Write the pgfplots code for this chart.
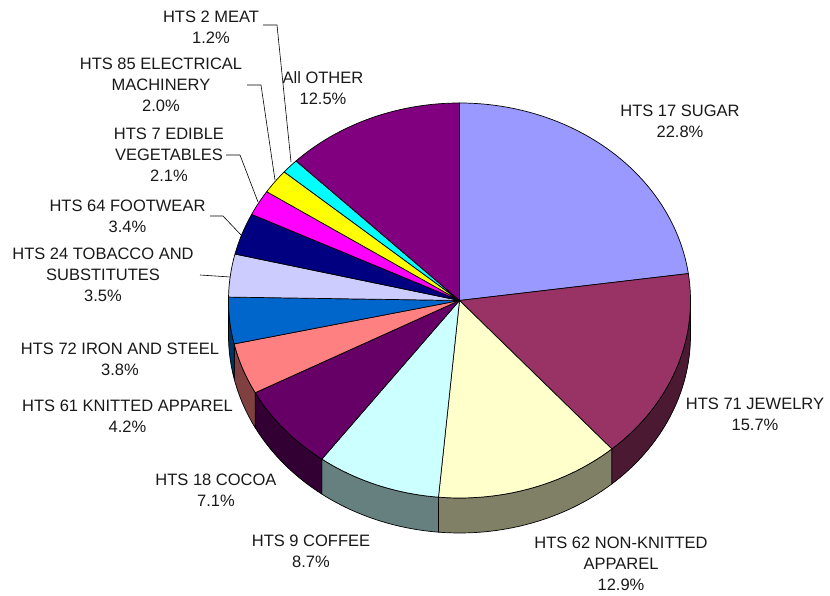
\documentclass[border=0pt]{standalone}
\usepackage{pgfplots}
\pgfplotsset{compat=1.18}
\usepackage{fontspec}
\setmainfont{Liberation Sans}

\definecolor{cSugar}{HTML}{9999FF}
\definecolor{cJewel}{HTML}{993366}
\definecolor{cNonKnit}{HTML}{FFFFCC}
\definecolor{cCoffee}{HTML}{CCFFFF}
\definecolor{cCocoa}{HTML}{660066}
\definecolor{cKnit}{HTML}{FF8080}
\definecolor{cIron}{HTML}{0066CC}
\definecolor{cTobacco}{HTML}{CCCCFF}
\definecolor{cFoot}{HTML}{000080}
\definecolor{cVeg}{HTML}{FF00FF}
\definecolor{cElec}{HTML}{FFFF00}
\definecolor{cMeat}{HTML}{00FFFF}
\definecolor{cOther}{HTML}{800080}

\tikzset{lbl/.style={font=\fontsize{16.5}{21}\selectfont, align=center, text=black!90, inner sep=0pt}}

% geometry (1 unit = 1 pt = 1 px of the reference)
\def\cx{459.5}
\def\cy{295.5}
\def\rx{231}
\def\ry{197.5}
\def\dep{35}

% shares in percent, clockwise from 12 o'clock
\def\vals{22.8,15.7,12.9,8.7,7.1,4.2,3.8,3.5,3.4,2.1,2.0,1.2,12.5}
\def\total{99.9}
\pgfmathsetmacro\degper{360/\total}
\gdef\cum{0}
\expandafter\xdef\csname ang0\endcsname{90}
\foreach \v [count=\i] in \vals {%
  \pgfmathsetmacro\newcum{\cum+\v}%
  \xdef\cum{\newcum}%
  \pgfmathsetmacro\aa{90-\degper*\newcum}%
  \expandafter\xdef\csname ang\i\endcsname{\aa}%
}

\newcommand\slice[2]{%
  \addplot[fill=#2, draw=black, line width=0.7pt, line join=round, samples=80, variable=\t,
    domain={\csname ang#1\endcsname}:{\csname ang\the\numexpr#1-1\relax\endcsname}]
    ({\cx+\rx*cos(\t)},{\cy+\ry*sin(\t)}) -- (axis cs:\cx,\cy) -- cycle;
}
\newcommand\wall[3]{%
  \addplot[fill=#3, draw=black, line width=0.7pt, line join=round, samples=60, variable=\t,
    domain={max(#1,-180)}:{min(#2,0)}]
    ({\cx+\rx*cos(\t)},{\cy+\ry*sin(\t)}) -- ++(0pt,-\dep pt)
    arc[start angle={min(#2,0)}, end angle={max(#1,-180)}, x radius=\rx pt, y radius=\ry pt] -- cycle;
}

\begin{document}
\begin{tikzpicture}
\begin{axis}[
  x=1pt, y=1pt, xmin=0, xmax=830, ymin=0, ymax=596,
  hide axis, clip=false,
]
\path (axis cs:0,0) rectangle (axis cs:830,596);
% side walls (front half)
\wall{\csname ang2\endcsname}{\csname ang1\endcsname}{cJewel!50!black}
\wall{\csname ang3\endcsname}{\csname ang2\endcsname}{cNonKnit!50!black}
\wall{\csname ang4\endcsname}{\csname ang3\endcsname}{cCoffee!50!black}
\wall{\csname ang5\endcsname}{\csname ang4\endcsname}{cCocoa!50!black}
\wall{\csname ang6\endcsname}{\csname ang5\endcsname}{cKnit!50!black}
\wall{\csname ang7\endcsname}{\csname ang6\endcsname}{cIron!50!black}
% top face
\slice{1}{cSugar}
\slice{2}{cJewel}
\slice{3}{cNonKnit}
\slice{4}{cCoffee}
\slice{5}{cCocoa}
\slice{6}{cKnit}
\slice{7}{cIron}
\slice{8}{cTobacco}
\slice{9}{cFoot}
\slice{10}{cVeg}
\slice{11}{cElec}
\slice{12}{cMeat}
\slice{13}{cOther}
% leader lines
\addplot[black, line width=0.6pt] coordinates {(263,571) (277,571) (291,434)};
\addplot[black, line width=0.6pt] coordinates {(247,511) (261,511) (275,416)};
\addplot[black, line width=0.6pt] coordinates {(226,441) (240,441) (258,394)};
\addplot[black, line width=0.6pt] coordinates {(210,380) (223,380) (242,360)};
\addplot[black, line width=0.6pt] coordinates {(200,321) (230,319)};
% labels
\node[lbl] at (axis cs:680,475) {HTS 17 SUGAR\\22.8\%};
\node[lbl] at (axis cs:755,182) {HTS 71 JEWELRY\\15.7\%};
\node[lbl] at (axis cs:621,32) {HTS 62 NON-KNITTED\\APPAREL\\12.9\%};
\node[lbl] at (axis cs:311,45) {HTS 9 COFFEE\\8.7\%};
\node[lbl] at (axis cs:216,106) {HTS 18 COCOA\\7.1\%};
\node[lbl] at (axis cs:127.5,179.5) {HTS 61 KNITTED APPAREL\\4.2\%};
\node[lbl] at (axis cs:120,237) {HTS 72 IRON AND STEEL\\3.8\%};
\node[lbl] at (axis cs:103,321.5) {HTS 24 TOBACCO AND\\SUBSTITUTES\\3.5\%};
\node[lbl] at (axis cs:127.5,379.5) {HTS 64 FOOTWEAR\\3.4\%};
\node[lbl] at (axis cs:169,441) {HTS 7 EDIBLE\\VEGETABLES\\2.1\%};
\node[lbl] at (axis cs:161,510.7) {HTS 85 ELECTRICAL\\MACHINERY\\2.0\%};
\node[lbl] at (axis cs:211,569) {HTS 2 MEAT\\1.2\%};
\node[lbl] at (axis cs:323,508) {All OTHER\\12.5\%};
\end{axis}
\end{tikzpicture}
\end{document}
